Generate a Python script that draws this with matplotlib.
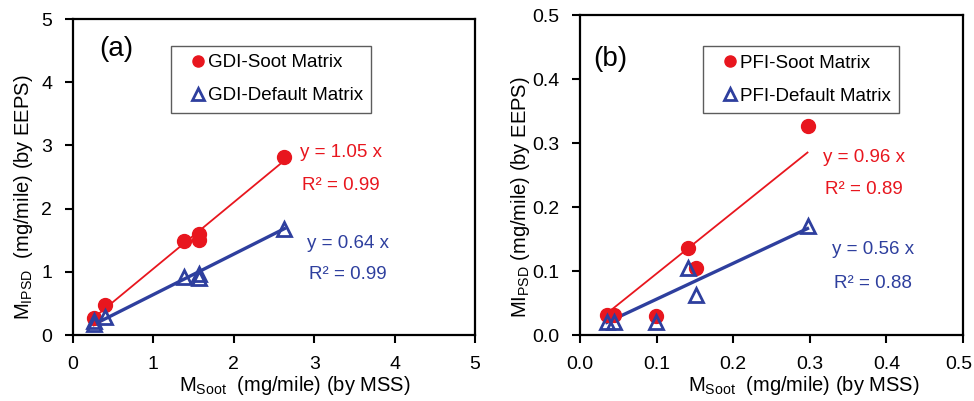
import numpy as np
from matplotlib import pyplot as plt
from matplotlib import transforms

plt.rcParams['font.family'] = ['Liberation Sans', 'DejaVu Sans']
plt.rcParams['mathtext.fontset'] = 'custom'
plt.rcParams['mathtext.rm'] = 'Liberation Sans'
plt.rcParams['mathtext.it'] = 'Liberation Sans'

RED = '#e8161e'
BLUE = '#2e3f9e'

# (a) GDI
gdi_x_soot = [0.26, 0.40, 1.38, 1.57, 1.57, 2.63]
gdi_y_soot = [0.27, 0.48, 1.48, 1.60, 1.50, 2.82]
gdi_x_def = [0.26, 0.26, 0.40, 1.38, 1.57, 1.57, 2.63]
gdi_y_def = [0.17, 0.22, 0.28, 0.92, 0.97, 0.90, 1.68]
gdi_slope_soot, gdi_r2_soot = 1.05, 0.99
gdi_slope_def, gdi_r2_def = 0.64, 0.99

# (b) PFI
pfi_x_soot = [0.035, 0.045, 0.099, 0.141, 0.152, 0.297]
pfi_y_soot = [0.032, 0.032, 0.029, 0.136, 0.104, 0.326]
pfi_x_def = [0.035, 0.045, 0.099, 0.141, 0.152, 0.297]
pfi_y_def = [0.020, 0.020, 0.020, 0.105, 0.062, 0.170]
pfi_slope_soot, pfi_r2_soot = 0.96, 0.89
pfi_slope_def, pfi_r2_def = 0.56, 0.88

fig = plt.figure(figsize=(9.74, 4.01), dpi=100)
ax1 = fig.add_axes([73 / 974, 66 / 401, 402 / 974, 316 / 401])
ax2 = fig.add_axes([580 / 974, 66 / 401, 383 / 974, 320 / 401])


def draw_panel(ax, xs, ys, xd, yd, ks, kd, r2s, r2d, lim, step, fmt, names, label,
               label_pos, txt_s, txt_d, leg_anchor, ylabel, ylab_xy, xlab_xy):
    xr = np.array([min(xs), max(xs)])
    ax.plot(xr, ks * xr, color=RED, lw=1.3, zorder=2)
    xr2 = np.array([min(xd), max(xd)])
    ax.plot(xr2, kd * xr2, color=BLUE, lw=2.4, zorder=2)
    ax.plot(xs, ys, 'o', ms=10, color=RED, mec=RED, ls='none', label=names[0], zorder=3)
    ax.plot(xd, yd, '^', ms=10.5, mfc='none', mec=BLUE, mew=2.0, ls='none', label=names[1], zorder=4)

    ax.set_xlim(0, lim)
    ax.set_ylim(0, lim)
    ticks = np.arange(0, lim + step / 2, step)
    ax.set_xticks(ticks)
    ax.set_yticks(ticks)
    ax.set_xticklabels([fmt.format(t) for t in ticks])
    ax.set_yticklabels([fmt.format(t) for t in ticks])
    ax.tick_params(direction='out', length=6, width=1.5, labelsize=14)
    ax.tick_params(axis='x', pad=9)
    ax.tick_params(axis='y', pad=9)
    for sp in ax.spines.values():
        sp.set_linewidth(1.6)

    ax.set_xlabel(r'M$_{\rm Soot}$  (mg/mile) (by MSS)', fontsize=14.5)
    ax.set_ylabel(ylabel, fontsize=14.5)
    ax.xaxis.set_label_coords(*xlab_xy)
    ax.yaxis.set_label_coords(*ylab_xy)

    ax.text(label_pos[0], label_pos[1], label, fontsize=20, ha='left', va='center')
    ax.text(txt_s[0], txt_s[1], f'y = {ks:.2f} x', color=RED, fontsize=13.5, ha='center', va='center')
    ax.text(txt_s[0], txt_s[2], f'R² = {r2s:.2f}', color=RED, fontsize=13.5, ha='center', va='center')
    ax.text(txt_d[0], txt_d[1], f'y = {kd:.2f} x', color=BLUE, fontsize=13.5, ha='center', va='center')
    ax.text(txt_d[0], txt_d[2], f'R² = {r2d:.2f}', color=BLUE, fontsize=13.5, ha='center', va='center')

    leg = ax.legend(loc='upper left', bbox_to_anchor=leg_anchor, fontsize=13.5,
                    frameon=True, fancybox=False, edgecolor='#333333',
                    handlelength=2.0, handletextpad=-0.5, borderpad=0.45,
                    labelspacing=0.85, borderaxespad=0, markerscale=0.8)
    leg.get_frame().set_linewidth(1.0)


draw_panel(ax1, gdi_x_soot, gdi_y_soot, gdi_x_def, gdi_y_def,
           gdi_slope_soot, gdi_slope_def, gdi_r2_soot, gdi_r2_def,
           5, 1, '{:.0f}', ['GDI-Soot Matrix', 'GDI-Default Matrix'], '(a)',
           (0.33, 4.53), (3.33, 2.88, 2.37), (3.42, 1.45, 0.95), (0.244, 0.915),
           r'M$_{\rm IPSD}$  (mg/mile) (by EEPS)', (-0.0945, 0.437), (0.552, -0.124))

draw_panel(ax2, pfi_x_soot, pfi_y_soot, pfi_x_def, pfi_y_def,
           pfi_slope_soot, pfi_slope_def, pfi_r2_soot, pfi_r2_def,
           0.5, 0.1, '{:.1f}', ['PFI-Soot Matrix', 'PFI-Default Matrix'], '(b)',
           (0.017, 0.432), (0.371, 0.277, 0.227), (0.383, 0.133, 0.081), (0.321, 0.903),
           r'MI$_{\rm PSD}$ (mg/mile) (by EEPS)', (-0.126, 0.431), (0.585, -0.122))

# keep the last x tick label of panel (b) inside the canvas
last = ax2.get_xticklabels()[-1]
last.set_transform(last.get_transform() + transforms.ScaledTranslation(-3 / 72, 0, fig.dpi_scale_trans))

plt.savefig('out.png', dpi=100)
